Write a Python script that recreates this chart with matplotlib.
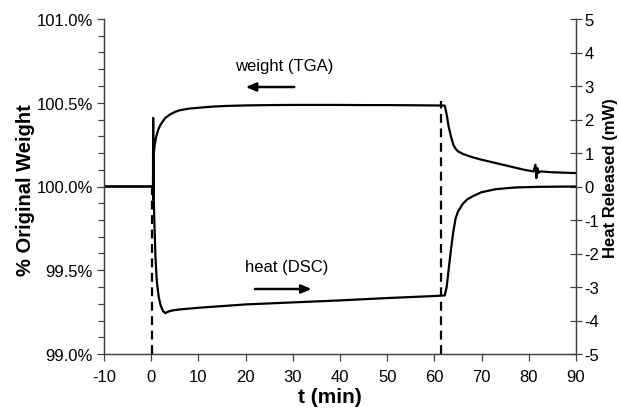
import matplotlib
matplotlib.use("Agg")
import matplotlib.pyplot as plt
from matplotlib.ticker import MultipleLocator, FuncFormatter

plt.rcParams['font.family'] = ['Liberation Sans', 'DejaVu Sans']
plt.rcParams['axes.unicode_minus'] = False

# ---- data ----
t_weight = [-10, -6, -2, 0.2, 0.38, 0.42, 0.46, 0.5, 0.7, 1.0, 1.5, 2.0, 3.0, 4.0, 5.0,
            6.0, 8.0, 10, 13, 16, 20, 25, 30, 35, 40, 45, 50, 55, 60, 62.2, 62.6,
            63.0, 63.5, 64.0, 64.5, 65, 66, 68, 70, 73, 76, 79, 81, 81.4, 81.6,
            81.8, 82.0, 82.4, 85, 88, 90]
weight = [100.0, 100.0, 100.0, 100.0, 100.0, 100.41, 99.92, 100.18, 100.24, 100.29,
          100.34, 100.37, 100.41, 100.43, 100.445, 100.455, 100.465, 100.47, 100.477,
          100.481, 100.484, 100.486, 100.487, 100.487, 100.487, 100.486, 100.486,
          100.485, 100.484, 100.483, 100.43, 100.36, 100.30, 100.25, 100.225, 100.21,
          100.195, 100.175, 100.16, 100.14, 100.12, 100.10, 100.09, 100.13, 100.05,
          100.11, 100.08, 100.09, 100.085, 100.082, 100.08]

t_heat = [-10, -5, 0, 0.45, 0.55, 0.7, 0.9, 1.2, 1.6, 2.0, 2.5, 3.0, 3.5, 4.5, 6, 10,
          15, 20, 30, 40, 50, 60, 62.2, 62.6, 63.0, 63.5, 64.0, 64.5, 65, 66, 67, 68,
          70, 73, 77, 82, 86, 90]
heat = [0, 0, 0, 0, -0.4, -1.2, -2.1, -2.85, -3.3, -3.55, -3.72, -3.78, -3.74, -3.70,
        -3.67, -3.62, -3.57, -3.52, -3.46, -3.40, -3.33, -3.27, -3.25, -3.0, -2.5,
        -1.9, -1.35, -0.95, -0.75, -0.52, -0.38, -0.30, -0.17, -0.08, -0.03, -0.01,
        -0.005, 0.0]

event_times = [0.2, 61.3]
event_tops = [100.0, 100.51]

x_ticks = list(range(-10, 91, 10))
left_ticks = [99.0, 99.5, 100.0, 100.5, 101.0]
right_ticks = list(range(-5, 6, 1))

# ---- figure ----
W, H = 619, 410
fig = plt.figure(figsize=(W / 100, H / 100), dpi=100)
ax = fig.add_axes([104 / W, 1 - 355 / H, 472 / W, 335 / H])
ax2 = ax.twinx()

ax.plot(t_weight, weight, color='black', lw=1.6)
ax2.plot(t_heat, heat, color='black', lw=1.6)

for tx, top in zip(event_times, event_tops):
    ax.plot([tx, tx], [99.0, top], color='black', lw=1.6, linestyle=(0, (4, 2.5)))

ax.set_xlim(-10, 90)
ax.set_ylim(99.0, 101.0)
ax2.set_ylim(-5, 5)

ax.set_xticks(x_ticks)
ax.set_xticklabels([str(v) for v in x_ticks])
ax.set_yticks(left_ticks)
ax.yaxis.set_minor_locator(MultipleLocator(0.1))
ax.yaxis.set_major_formatter(FuncFormatter(lambda v, p: f"{v:.1f}%"))
ax2.set_yticks(right_ticks)
ax2.set_yticklabels([str(v) for v in right_ticks])

spine_col = '#404040'
for a in (ax, ax2):
    a.spines['top'].set_visible(False)
    for s in ('left', 'right', 'bottom'):
        a.spines[s].set_color(spine_col)
        a.spines[s].set_linewidth(0.9)

ax.tick_params(axis='x', direction='out', length=5, width=0.9, color=spine_col,
               labelsize=12, pad=6)
ax.tick_params(axis='y', which='major', direction='out', length=5, width=0.9,
               color=spine_col, labelsize=12, pad=3)
ax.tick_params(axis='y', which='minor', direction='out', length=4, width=0.9,
               color=spine_col)
ax2.tick_params(axis='y', direction='inout', length=9, width=0.9, color=spine_col,
                labelsize=12, pad=1.5)

# axis titles placed at measured pixel positions
fig.text(330 / W, 1 - 398 / H, 't (min)', fontsize=15, fontweight='bold',
         ha='center', va='center')
fig.text(26 / W, 1 - 190 / H, '% Original Weight', fontsize=14.5, fontweight='bold',
         ha='center', va='center', rotation=90)
fig.text(611 / W, 1 - 178 / H, 'Heat Released (mW)', fontsize=12, fontweight='bold',
         ha='center', va='center', rotation=90)

ax.text(28.1, 100.72, 'weight (TGA)', fontsize=12, ha='center', va='center')
ax.annotate('', xy=(20.0, 100.594), xytext=(30.3, 100.594),
            arrowprops=dict(arrowstyle='-|>,head_length=0.6,head_width=0.25',
                            color='black', lw=1.8, shrinkA=0, shrinkB=0))
ax.text(28.6, 99.525, 'heat (DSC)', fontsize=12, ha='center', va='center')
ax.annotate('', xy=(34.0, 99.388), xytext=(22.0, 99.388),
            arrowprops=dict(arrowstyle='-|>,head_length=0.6,head_width=0.25',
                            color='black', lw=1.8, shrinkA=0, shrinkB=0))

fig.savefig('out.png', dpi=100)
